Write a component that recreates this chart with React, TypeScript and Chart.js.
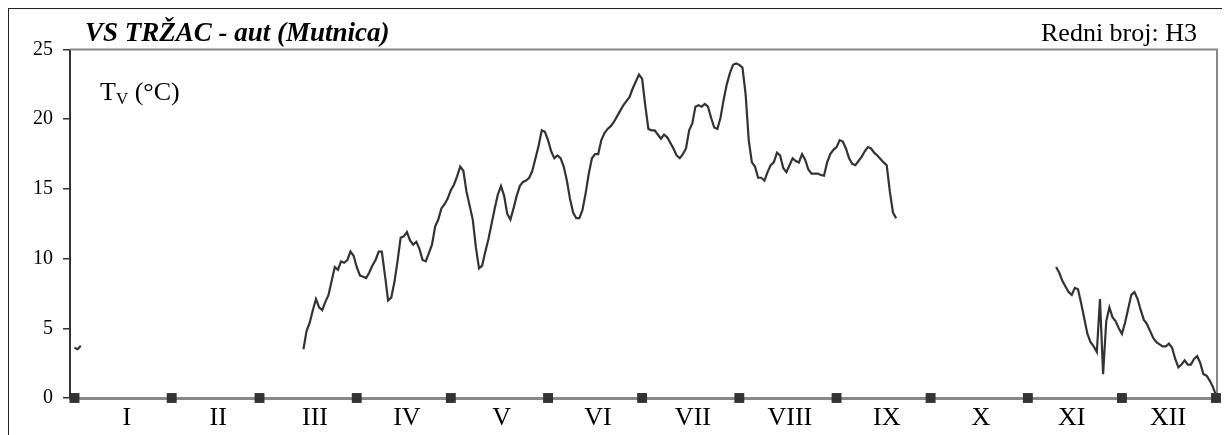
import { useEffect, useRef } from 'react';
import { Chart, registerables } from 'chart.js';

Chart.register(...registerables);

const chartTitle = 'VS TRŽAC - aut (Mutnica)';
const stationCode = 'Redni broj: H3';
const unitMain = 'T';
const unitSub = 'V';
const unitRest = ' (°C)';

const monthLabels = ['I', 'II', 'III', 'IV', 'V', 'VI', 'VII', 'VIII', 'IX', 'X', 'XI', 'XII'];
const monthLabelDays = [16.7, 45.8, 76.7, 106, 136.2, 166.9, 197.2, 228.1, 259, 289, 318, 348.7];
const monthBoundaryDays = [0, 31, 59, 90, 120, 151, 181, 212, 243, 273, 304, 334, 364];
const yTickValues = [0, 5, 10, 15, 20, 25];

const janStartDay = 0;
const janTemps = [3.6, 3.5, 3.75];

const mainStartDay = 73;
const mainTemps = [
  3.5, 4.8, 5.4, 6.3, 7.1, 6.5, 6.3, 6.9, 7.4, 8.4,
  9.4, 9.2, 9.8, 9.7, 9.9, 10.5, 10.2, 9.4, 8.8, 8.7,
  8.6, 9.0, 9.5, 9.9, 10.5, 10.5, 8.8, 7.0, 7.2, 8.3,
  9.8, 11.5, 11.6, 11.9, 11.3, 11.0, 11.2, 10.7, 9.9, 9.8,
  10.4, 11.0, 12.3, 12.8, 13.6, 13.9, 14.3, 14.9, 15.3, 15.9,
  16.6, 16.3, 14.8, 13.8, 12.8, 10.8, 9.3, 9.5, 10.5, 11.4,
  12.5, 13.6, 14.6, 15.2, 14.5, 13.2, 12.8, 13.6, 14.5, 15.2,
  15.5, 15.6, 15.8, 16.3, 17.2, 18.1, 19.2, 19.1, 18.5, 17.7,
  17.2, 17.4, 17.2, 16.6, 15.6, 14.3, 13.3, 12.9, 12.9, 13.5,
  14.7, 16.1, 17.2, 17.5, 17.5, 18.5, 19.0, 19.3, 19.5, 19.8,
  20.2, 20.6, 21.0, 21.3, 21.6, 22.2, 22.7, 23.2, 22.9, 21.0,
  19.3, 19.2, 19.2, 18.9, 18.6, 18.9, 18.7, 18.3, 17.9, 17.4,
  17.2, 17.5, 17.9, 19.2, 19.7, 20.9, 21.0, 20.9, 21.1, 20.9,
  20.1, 19.4, 19.3, 20.1, 21.4, 22.5, 23.3, 23.9, 24.0, 23.9,
  23.7, 21.8, 18.5, 16.9, 16.6, 15.8, 15.8, 15.6, 16.2, 16.7,
  16.9, 17.6, 17.4, 16.5, 16.2, 16.7, 17.2, 17.0, 16.9, 17.5,
  17.1, 16.4, 16.1, 16.1, 16.1, 16.0, 15.95, 16.9, 17.5, 17.8,
  18.0, 18.5, 18.4, 17.9, 17.2, 16.8, 16.7, 17.0, 17.3, 17.7,
  18.0, 17.9, 17.6, 17.4, 17.15, 16.9, 16.7, 14.8, 13.3, 12.9,
];

const winterStartDay = 313;
const winterTemps = [
  9.4, 9.0, 8.4, 8.0, 7.6, 7.4, 7.9, 7.8, 6.8, 5.7,
  4.6, 4.0, 3.7, 3.3, 7.1, 1.7, 5.5, 6.5, 5.8, 5.5,
  5.0, 4.6, 5.4, 6.4, 7.4, 7.6, 7.1, 6.3, 5.6, 5.3,
  4.8, 4.3, 4.0, 3.85, 3.7, 3.7, 3.9, 3.6, 2.8, 2.2,
  2.4, 2.7, 2.4, 2.4, 2.8, 3.0, 2.5, 1.7, 1.6, 1.25,
  0.8, 0.2,
];

const X_MIN = -1.435;
const X_MAX = 364.32;
const SERIF = '"Liberation Serif", "Times New Roman", serif';

const framePlugin = {
  id: 'plotFrame',
  beforeDatasetsDraw(chart: any) {
    const { ctx, chartArea } = chart;
    ctx.save();
    ctx.strokeStyle = '#888888';
    ctx.lineWidth = 2;
    ctx.beginPath();
    ctx.moveTo(chartArea.left, chartArea.top);
    ctx.lineTo(chartArea.right, chartArea.top);
    ctx.lineTo(chartArea.right, chartArea.bottom);
    ctx.stroke();
    ctx.restore();
  },
};

const textPlugin = {
  id: 'chartTexts',
  afterDraw(chart: any) {
    const { ctx } = chart;
    ctx.save();
    ctx.fillStyle = '#000';
    ctx.textBaseline = 'alphabetic';
    ctx.textAlign = 'left';
    ctx.font = `italic bold 27px ${SERIF}`;
    ctx.fillText(chartTitle, 76, 32);
    ctx.textAlign = 'right';
    ctx.font = `26px ${SERIF}`;
    ctx.fillText(stationCode, 1188, 32);
    ctx.textAlign = 'left';
    let x = 91;
    const y = 91;
    ctx.font = `26px ${SERIF}`;
    ctx.fillText(unitMain, x, y);
    x += ctx.measureText(unitMain).width;
    ctx.font = `17px ${SERIF}`;
    ctx.fillText(unitSub, x, y + 4);
    x += ctx.measureText(unitSub).width;
    ctx.font = `26px ${SERIF}`;
    ctx.fillText(unitRest, x, y);
    ctx.restore();
  },
};

export default function App() {
  const ref = useRef<HTMLCanvasElement>(null);
  useEffect(() => {
    document.documentElement.style.overflow = 'hidden';
    const pts: any[] = [];
    const addSeg = (start: number, vals: number[]) => {
      vals.forEach((v, i) => pts.push({ x: start + i, y: v }));
      pts.push({ x: start + vals.length, y: null });
    };
    addSeg(janStartDay, janTemps);
    addSeg(mainStartDay, mainTemps);
    addSeg(winterStartDay, winterTemps);
    const markers = monthBoundaryDays.map((d) => ({ x: d, y: 0 }));

    const chart = new Chart(ref.current as HTMLCanvasElement, {
      type: 'line',
      data: {
        datasets: [
          {
            data: pts,
            borderColor: '#333333',
            borderWidth: 2.2,
            pointRadius: 0,
            spanGaps: false,
            tension: 0,
            order: 1,
          } as any,
          {
            data: markers,
            showLine: false,
            pointStyle: 'rect',
            pointRadius: 7,
            pointHoverRadius: 7,
            backgroundColor: '#333333',
            borderColor: '#333333',
            borderWidth: 0,
            clip: false,
            order: 0,
          } as any,
        ],
      },
      options: {
        animation: false,
        responsive: false,
        maintainAspectRatio: false,
        events: [],
        layout: { padding: { top: 40.5, right: 12, left: 0, bottom: 0 } },
        plugins: {
          legend: { display: false },
          tooltip: { enabled: false },
          title: { display: false },
        },
        scales: {
          x: {
            type: 'linear',
            min: X_MIN,
            max: X_MAX,
            afterBuildTicks: (s: any) => {
              s.ticks = monthLabelDays.map((v) => ({ value: v }));
            },
            afterFit: (s: any) => {
              s.height = 51;
            },
            ticks: {
              callback: (_v: any, i: number) => monthLabels[i],
              font: { family: SERIF, size: 26 },
              color: '#000',
              padding: 5,
              autoSkip: false,
              maxRotation: 0,
            },
            grid: { display: true, drawOnChartArea: false, drawTicks: false },
            border: { display: true, color: '#888888', width: 3 },
          },
          y: {
            type: 'linear',
            min: 0,
            max: 25,
            afterBuildTicks: (s: any) => {
              s.ticks = yTickValues.map((v) => ({ value: v }));
            },
            afterFit: (s: any) => {
              s.width = 61;
            },
            ticks: {
              font: { family: SERIF, size: 20 },
              color: '#000',
              padding: 10,
            },
            grid: {
              display: true,
              drawOnChartArea: false,
              drawTicks: true,
              tickLength: 7,
              color: '#333333',
              lineWidth: 1.5,
            },
            border: { display: true, color: '#333333', width: 2 },
          },
        },
      } as any,
      plugins: [framePlugin, textPlugin],
    });
    return () => chart.destroy();
  }, []);

  return (
    <div
      style={{
        width: 1240,
        height: 440,
        borderTop: '1px solid #222',
        borderLeft: '1px solid #222',
      }}
    >
      <canvas ref={ref} width={1220} height={440} style={{ display: 'block' }} />
    </div>
  );
}
